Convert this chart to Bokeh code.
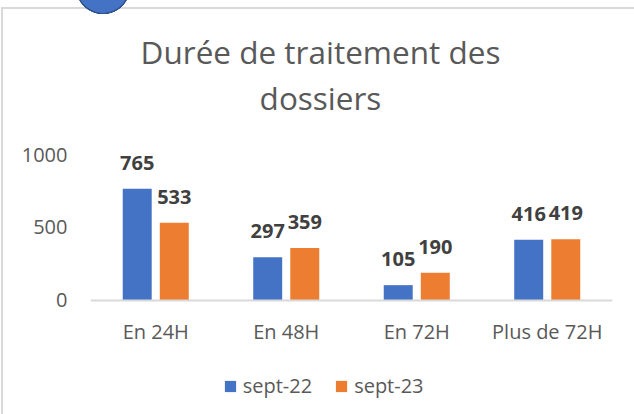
from bokeh.plotting import figure
from bokeh.models import (ColumnDataSource, FactorRange, FixedTicker, Legend, LegendItem,
                          Range1d, Label)
from bokeh.transform import dodge
from bokeh.core.properties import value
from bokeh.embed import file_html
from bokeh.resources import INLINE

categories = ["En 24H", "En 48H", "En 72H", "Plus de 72H"]
series_names = ["sept-22", "sept-23"]
sept22 = [765, 297, 105, 416]
sept23 = [533, 359, 190, 419]
y_ticks = [0, 500, 1000]
title_lines = ["Durée de traitement des", "dossiers"]

BLUE = "#4472C4"
ORANGE = "#ED7D31"
FONT = "Open Sans"

src = ColumnDataSource(dict(
    cat=categories, s22=sept22, s23=sept23,
    l22=[str(v) for v in sept22], l23=[str(v) for v in sept23],
))

# frame spans the full height; value 0 sits at 300px, 1000 at 154px
p = figure(width=634, height=414, x_range=FactorRange(*categories),
           y_range=Range1d(-781, 2055), output_backend="svg", toolbar_location=None,
           min_border_left=90, min_border_right=22, min_border_top=0,
           min_border_bottom=0, background_fill_color=None,
           border_fill_color=None)
# page decoration behind the (transparent) canvas: chart border and bullet
p.styles = {
    "background-color": "#FFFFFF",
    "background-image": ("radial-gradient(circle at 103px -13px, #4472C4 0px, #4472C4 25.5px, "
                         "#2F528F 26px, #2F528F 27px, rgba(255,255,255,0) 27.5px), "
                         "linear-gradient(#D9D9D9, #D9D9D9), "
                         "linear-gradient(#D9D9D9, #D9D9D9)"),
    "background-position": "0px 0px, 1px 7px, 1px 7px",
    "background-size": "634px 414px, 2px 420px, 660px 2px",
    "background-repeat": "no-repeat, no-repeat, no-repeat",
}
p.outline_line_color = None
p.xgrid.visible = False
p.ygrid.visible = False

off = 0.142
bw = 0.222
r1 = p.vbar(x=dodge("cat", -off, range=p.x_range), top="s22", width=bw, source=src,
            fill_color=BLUE, line_color=None)
r2 = p.vbar(x=dodge("cat", off, range=p.x_range), top="s23", width=bw, source=src,
            fill_color=ORANGE, line_color=None)

for xs, ys, ts in ((-off, "s22", "l22"), (off, "s23", "l23")):
    p.text(x=dodge("cat", xs, range=p.x_range), y=ys, text=ts, source=src,
           text_align="center", text_baseline="alphabetic", y_offset=-26,
           text_font=value(FONT), text_font_size="20px", text_font_style="bold",
           text_color="#404040")

# axes
p.yaxis.ticker = FixedTicker(ticks=y_ticks)
p.yaxis.axis_line_color = None
p.yaxis.major_tick_line_color = None
p.yaxis.minor_tick_line_color = None
p.yaxis.major_label_text_font = FONT
p.yaxis.major_label_text_font_size = "20px"
p.yaxis.major_label_text_color = "#595959"
p.yaxis.major_label_standoff = 17

p.xaxis.fixed_location = 0
p.xaxis.axis_line_color = "#D9D9D9"
p.xaxis.axis_line_width = 2
p.xaxis.major_tick_line_color = None
p.xaxis.minor_tick_line_color = None
p.xaxis.major_label_text_font = FONT
p.xaxis.major_label_text_font_size = "20px"
p.xaxis.major_label_text_color = "#595959"
p.xaxis.major_label_standoff = 12

# title: two centred lines
p.title.visible = False
for txt, yy in zip(title_lines, (363, 317)):
    p.add_layout(Label(x=230, y=yy, x_units="screen", y_units="screen", text=txt,
                       text_align="center", text_baseline="alphabetic",
                       text_font=FONT, text_font_size="31.5px", text_color="#595959"))

legend = Legend(items=[LegendItem(label=series_names[0], renderers=[r1]),
                       LegendItem(label=series_names[1], renderers=[r2])],
                orientation="horizontal", location=(132.7, 15),
                glyph_width=14, glyph_height=14, label_standoff=6, spacing=22,
                padding=0, margin=0, border_line_color=None,
                background_fill_alpha=0, label_text_font=FONT,
                label_text_font_size="20px", label_text_color="#595959")
p.add_layout(legend)

open("out.html", "w").write(file_html(p, INLINE))
